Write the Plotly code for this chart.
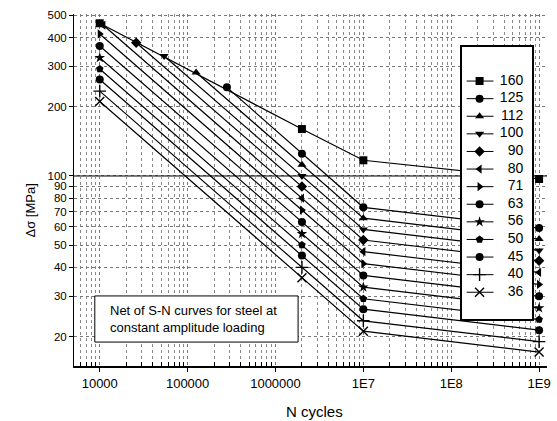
import plotly.graph_objects as go

# ---- data ----
CATEGORIES = ["160", "125", "112", "100", "90", "80", "71", "63", "56", "50", "45", "40", "36"]
SYMBOLS = ["square", "circle", "triangle-up", "triangle-down", "diamond", "triangle-left",
           "triangle-right", "circle", "star", "pentagon", "circle", "cross-thin", "x-thin"]
N_START = [10000, 280000, 125000, 54000, 26000, 11000, 10000, 10000, 10000, 10000, 10000, 10000, 10000]
S_START = [462, 243, 282, 333, 380, 453, 415, 368, 327, 292, 263, 234, 211]
N_KNEE = 2000000
S_KNEE = [160, 125, 112, 100, 90, 80, 71, 63, 56, 50, 45, 40, 36]
N_CAFL = 10000000
S_CAFL = [117, 73, 65.5, 58.5, 52.6, 46.8, 41.5, 36.9, 32.8, 29.2, 26.3, 23.4, 21.1]
N_END = 1000000000
S_END = [97, 59.3, 53.1, 47.4, 42.7, 38, 33.7, 29.9, 26.6, 23.7, 21.3, 19, 17.1]

X_TICKS = [1e4, 1e5, 1e6, 1e7, 1e8, 1e9]
X_TICK_TEXT = ["10000", "100000", "1000000", "1E7", "1E8", "1E9"]
X_MINOR = [m * 10 ** e for e in range(3, 9) for m in range(2, 10) if 5000 <= m * 10 ** e <= 9e8]
Y_TICKS = [20, 30, 40, 50, 60, 70, 80, 90, 100, 200, 300, 400, 500]

FONT = "Liberation Sans, Arial, sans-serif"


def mk(i):
    thin = SYMBOLS[i] in ("cross-thin", "x-thin")
    return dict(symbol=SYMBOLS[i], size=9 if thin else 8, color="black",
                line=dict(color="black", width=1.4 if thin else 0))


fig = go.Figure()
for i, cat in enumerate(CATEGORIES):
    fig.add_trace(go.Scatter(
        x=[N_START[i], N_KNEE, N_CAFL, N_END],
        y=[S_START[i], S_KNEE[i], S_CAFL[i], S_END[i]],
        mode="lines+markers", name=cat, showlegend=False,
        line=dict(color="black", width=1.2), marker=mk(i),
    ))

# ---- legend drawn in an inset panel (row = category index) ----
for i, cat in enumerate(CATEGORIES):
    m = mk(i)
    m["opacity"] = [0, 1, 0]
    fig.add_trace(go.Scatter(
        x=[5, 18, 32], y=[i, i, i], xaxis="x2", yaxis="y2",
        mode="lines+markers", showlegend=False, hoverinfo="skip",
        line=dict(color="black", width=1), marker=m,
    ))
fig.add_trace(go.Scatter(
    x=[62] * len(CATEGORIES), y=list(range(len(CATEGORIES))), xaxis="x2", yaxis="y2",
    mode="text", text=CATEGORIES, textposition="middle left", showlegend=False,
    textfont=dict(family=FONT, size=14, color="black"), hoverinfo="skip",
))

gridstyle = dict(showgrid=True, gridcolor="#777", griddash="dot", gridwidth=1)

fig.update_layout(
    xaxis=dict(
        type="log", range=[3.707, 9.09],
        tickmode="array", tickvals=X_TICKS, ticktext=X_TICK_TEXT,
        ticks="outside", ticklen=4, tickcolor="black",
        showline=True, linecolor="black", linewidth=2,
        tickfont=dict(family=FONT, size=13, color="black"),
        minor=dict(tickmode="array", tickvals=X_MINOR, ticks="inside", ticklen=4,
                   tickcolor="black", showgrid=True, gridcolor="#888", griddash="dot", gridwidth=1),
        zeroline=False, **gridstyle,
    ),
    yaxis=dict(
        type="log", range=[1.1725, 2.705],
        tickmode="array", tickvals=Y_TICKS, ticktext=[str(v) for v in Y_TICKS],
        ticks="outside", ticklen=4, tickcolor="black",
        showline=True, linecolor="black", linewidth=1,
        tickfont=dict(family=FONT, size=11.5, color="black"),
        zeroline=False, **gridstyle,
    ),
    xaxis2=dict(domain=[0.8197, 0.9686], anchor="y2", range=[0, 71],
                showline=True, mirror=True, linecolor="black", linewidth=1.5,
                showgrid=False, zeroline=False, showticklabels=False, ticks=""),
    yaxis2=dict(domain=[0.1335, 0.906], anchor="x2", range=[13.52, -1.93],
                showline=True, mirror=True, linecolor="black", linewidth=1.5,
                showgrid=False, zeroline=False, showticklabels=False, ticks=""),
)

shapes = [
    dict(type="line", xref="paper", yref="y", x0=0, x1=1, y0=100, y1=100,
         line=dict(color="black", width=1.2), layer="below"),
    dict(type="rect", xref="paper", yref="paper", x0=0.044, x1=0.4738, y0=0.068, y1=0.199,
         fillcolor="white", line=dict(color="black", width=1), layer="above"),
]

annotations = [
    dict(text="Net of S-N curves for steel at<br>constant amplitude loading",
         xref="paper", yref="paper", x=0.0713, y=0.1335, xanchor="left", yanchor="middle",
         align="left", showarrow=False, font=dict(family=FONT, size=13, color="black")),
    dict(text="Δσ [MPa]", xref="paper", yref="paper", x=-0.0922, y=0.443,
         xanchor="center", yanchor="middle", textangle=-90, showarrow=False,
         font=dict(family=FONT, size=13, color="black")),
    dict(text="N cycles", xref="paper", yref="paper", x=0.509, y=-0.128,
         xanchor="center", yanchor="middle", showarrow=False,
         font=dict(family=FONT, size=15, color="black")),
]

fig.update_layout(
    width=557, height=421,
    margin=dict(l=74, r=6, t=14, b=55),
    paper_bgcolor="white", plot_bgcolor="#ffffff",
    font=dict(family=FONT, color="black"),
    shapes=shapes, annotations=annotations,
    showlegend=False,
)

fig.write_html("out.html", config={"displayModeBar": False},
               post_script="document.body.style.margin='0';document.body.style.overflow='hidden';")
